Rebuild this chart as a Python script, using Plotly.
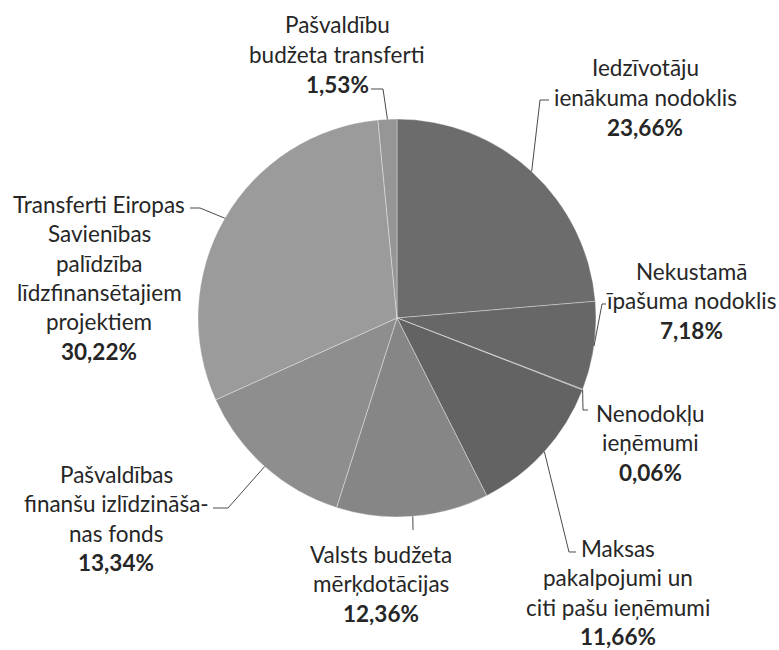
import math
import plotly.graph_objects as go

# ---- data ----
categories = [
    "Iedzīvotāju ienākuma nodoklis",
    "Nekustamā īpašuma nodoklis",
    "Nenodokļu ieņēmumi",
    "Maksas pakalpojumi un citi pašu ieņēmumi",
    "Valsts budžeta mērķdotācijas",
    "Pašvaldības finanšu izlīdzināšanas fonds",
    "Transferti Eiropas Savienības palīdzība līdzfinansētajiem projektiem",
    "Pašvaldību budžeta transferti",
]
values = [23.66, 7.18, 0.06, 11.66, 12.36, 13.34, 30.22, 1.53]
label_lines = [
    ["Iedzīvotāju", "ienākuma nodoklis"],
    ["Nekustamā", "īpašuma nodoklis"],
    ["Nenodokļu", "ieņēmumi"],
    ["Maksas", "pakalpojumi un", "citi pašu ieņēmumi"],
    ["Valsts budžeta", "mērķdotācijas"],
    ["Pašvaldības", "finanšu izlīdzināša-", "nas fonds"],
    ["Transferti Eiropas", "Savienības", "palīdzība", "līdzfinansētajiem", "projektiem"],
    ["Pašvaldību", "budžeta transferti"],
]

# ---- styling / layout ----
colors = ["#6c6c6c", "#676767", "#6a6a6a", "#636363", "#868686", "#8e8e8e", "#9b9b9b", "#969696"]
W, H = 779, 650
CX, CY, R = 397, 318, 199  # pie centre / radius in pixels

# label block: centre x, first line y (pixels from top), line spacing
label_pos = [
    (645, 68), (691, 271), (650, 413), (618, 548),
    (381, 554), (116, 474), (99, 204), (337, 25),
]
LS = 29.5
# leader line elbows (pixels): list of points ending at label side
leader_tail = [
    [(540, 100), (549, 100)],
    [(602, 304), (606, 304)],
    [(583, 410), (588, 410)],
    [(569, 552), (576, 552)],
    [(413, 530)],
    [(228, 508), (213, 508)],
    [(200, 208), (190, 208)],
    [(383, 89), (371, 89)],
]

fig = go.Figure(go.Pie(
    labels=categories,
    values=values,
    sort=False,
    direction="clockwise",
    rotation=0,
    textinfo="none",
    hoverinfo="label+percent",
    marker=dict(colors=colors, line=dict(color="rgba(255,255,255,0.35)", width=1)),
    domain=dict(x=[(CX - R) / W, (CX + R) / W], y=[(H - CY - R) / H, (H - CY + R) / H]),
    showlegend=False,
))

def px(x, y):
    return x / W, 1 - y / H

font_family = "Lato, 'Open Sans', sans-serif"
annotations = []
shapes = []
total = sum(values)
cum = 0.0
for i, v in enumerate(values):
    mid = (cum + v / 2) / total * 2 * math.pi
    cum += v
    ex, ey = CX + R * math.sin(mid), CY - R * math.cos(mid)
    pts = [(ex, ey)] + leader_tail[i]
    path = "M " + " L ".join(f"{px(a, b)[0]:.5f},{px(a, b)[1]:.5f}" for a, b in pts)
    shapes.append(dict(type="path", xref="paper", yref="paper", path=path,
                       line=dict(color="#4a4a4a", width=1)))
    lx, ly = label_pos[i]
    lines = label_lines[i] + ["<b>" + f"{v:.2f}".replace(".", ",") + "%</b>"]
    for k, t in enumerate(lines):
        x, y = px(lx, ly + k * LS)
        annotations.append(dict(x=x, y=y, xref="paper", yref="paper", text=t,
                                showarrow=False, xanchor="center", yanchor="middle",
                                font=dict(family=font_family, size=22.5, color="#262626")))

fig.update_layout(
    width=W, height=H,
    margin=dict(l=0, r=0, t=0, b=0),
    paper_bgcolor="white", plot_bgcolor="white",
    annotations=annotations, shapes=shapes,
)
fig.write_html("out.html", config={"displayModeBar": False},
               post_script="document.body.style.margin='0';")
